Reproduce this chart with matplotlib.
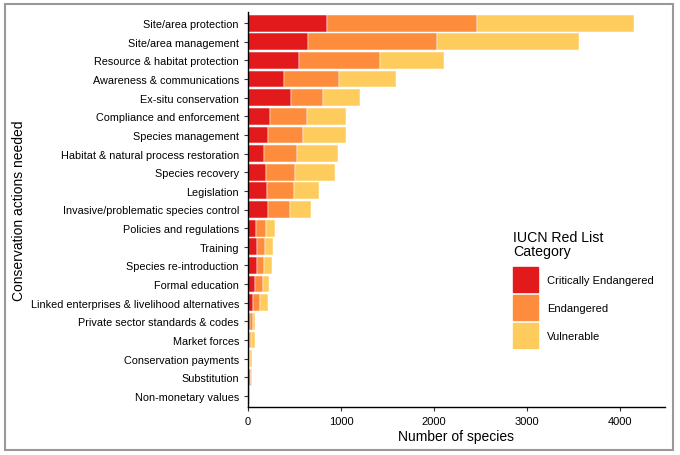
import matplotlib
matplotlib.use("Agg")
import matplotlib.pyplot as plt
import matplotlib.patches as mpatches
import numpy as np

plt.rcParams['font.family'] = ['Liberation Sans', 'DejaVu Sans']

actions = [
    "Site/area protection", "Site/area management", "Resource & habitat protection",
    "Awareness & communications", "Ex-situ conservation", "Compliance and enforcement",
    "Species management", "Habitat & natural process restoration", "Species recovery",
    "Legislation", "Invasive/problematic species control", "Policies and regulations",
    "Training", "Species re-introduction", "Formal education",
    "Linked enterprises & livelihood alternatives", "Private sector standards & codes",
    "Market forces", "Conservation payments", "Substitution", "Non-monetary values",
]
critically_endangered = [853, 649, 548, 387, 459, 233, 219, 169, 194, 201, 219,
                         86, 93, 97, 75, 50, 20, 12, 10, 18, 3]
endangered = [1606, 1383, 871, 592, 351, 401, 369, 358, 311, 294, 236,
              104, 93, 78, 83, 79, 30, 25, 15, 12, 6]
vulnerable = [1688, 1520, 689, 609, 398, 416, 462, 444, 434, 265, 219,
              100, 86, 80, 64, 82, 25, 33, 18, 10, 13]
categories = ["Critically Endangered", "Endangered", "Vulnerable"]
colors = ["#E31A1C", "#FD8D3C", "#FECC5C"]

fig = plt.figure(figsize=(6.8, 4.56), dpi=100)
ax = fig.add_axes([248/680, 1-408/456, (665-248)/680, (408-13)/456])

n = len(actions)
y = np.arange(n)[::-1]
left = np.zeros(n)
for vals, col, lab in zip([critically_endangered, endangered, vulnerable], colors, categories):
    v = np.array(vals, dtype=float)
    ax.barh(y, v, left=left, height=0.9, color=col, edgecolor='white', linewidth=0.35, label=lab)
    left += v

ax.set_xlim(0, 4480)
ax.set_ylim(-0.6, n - 0.4)
ax.set_yticks(y)
ax.set_yticklabels(actions, fontsize=7.8)
ax.set_xticks([0, 1000, 2000, 3000, 4000])
ax.tick_params(axis='x', labelsize=8, length=3, color='#333333')
ax.tick_params(axis='y', length=3, color='#333333')
for s in ['top', 'right']:
    ax.spines[s].set_visible(False)
ax.spines['left'].set_linewidth(1.0)
ax.spines['bottom'].set_linewidth(1.0)
ax.set_xlabel("Number of species", fontsize=10, labelpad=2)
ax.set_ylabel("Conservation actions needed", fontsize=10, labelpad=3)

fig.text(513/680, 1-231/456, "IUCN Red List\nCategory", fontsize=10.2,
         ha='left', va='top', linespacing=1.0)
handles = [mpatches.Patch(color=c) for c in colors]
leg = fig.legend(handles, categories,
                 loc='upper left', bbox_to_anchor=(513/680, 1-268/456),
                 frameon=False, fontsize=8, borderpad=0, borderaxespad=0,
                 handlelength=2.25, handleheight=3.1, labelspacing=0.25, handletextpad=0.8)

fig.patches.append(mpatches.Rectangle((5/680, 5/456), 668/680, 446/456,
                                      transform=fig.transFigure, fill=False,
                                      edgecolor='#999999', linewidth=1.5))
fig.savefig("out.png", dpi=100)
